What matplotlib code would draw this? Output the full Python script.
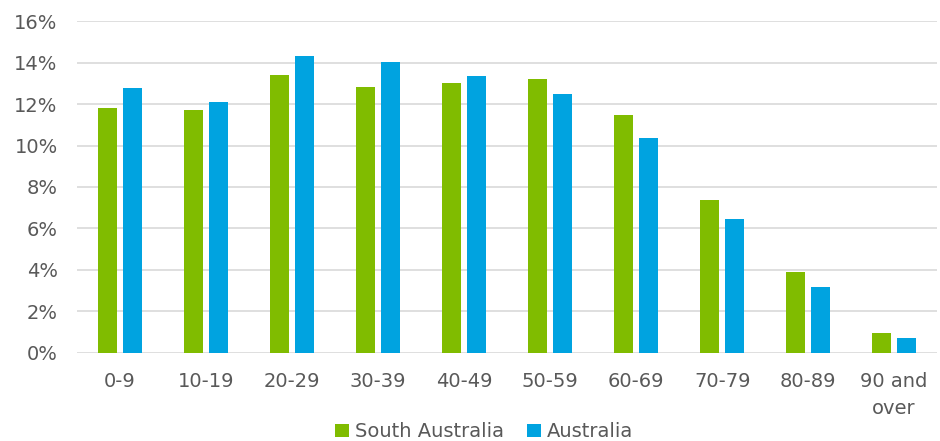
import matplotlib
matplotlib.use("Agg")
import matplotlib.pyplot as plt
import numpy as np

categories = ["0-9", "10-19", "20-29", "30-39", "40-49", "50-59", "60-69", "70-79", "80-89", "90 and\nover"]
south_australia = [11.83, 11.73, 13.41, 12.84, 13.03, 13.22, 11.49, 7.36, 3.89, 0.96]
australia = [12.79, 12.12, 14.33, 14.04, 13.37, 12.50, 10.34, 6.44, 3.17, 0.72]
yticks = [0, 2, 4, 6, 8, 10, 12, 14, 16]

green = "#80BC00"
blue = "#00A3E0"
text_color = "#595959"

plt.rcParams["font.family"] = ["DejaVu Sans"]
fig = plt.figure(figsize=(9.4, 4.41), dpi=100)
ax = fig.add_axes([0.082, 0.2, 0.915, 0.752])

x = np.arange(len(categories))
w = 0.22
off = 0.145
ax.bar(x - off, south_australia, width=w, color=green, label="South Australia", zorder=3)
ax.bar(x + off, australia, width=w, color=blue, label="Australia", zorder=3)

ax.set_xlim(-0.5, len(categories) - 0.5)
ax.set_ylim(0, 16)
ax.set_yticks(yticks)
ax.set_yticklabels([f"{v}%" for v in yticks])
ax.set_xticks(x)
ax.set_xticklabels(categories, linespacing=1.5)
ax.grid(axis="y", color="#D9D9D9", linewidth=1.2, zorder=0)
for s in ax.spines.values():
    s.set_visible(False)
ax.tick_params(axis="both", length=0, labelsize=14, colors=text_color)
ax.tick_params(axis="x", pad=14)
ax.tick_params(axis="y", pad=14)

leg = fig.legend(loc="lower center", bbox_to_anchor=(0.515, -0.04), ncol=2, frameon=False,
                 fontsize=14, handlelength=0.7, handleheight=0.7, handletextpad=0.3,
                 columnspacing=1.2)
for t in leg.get_texts():
    t.set_color(text_color)

fig.savefig("out.png", dpi=100)
